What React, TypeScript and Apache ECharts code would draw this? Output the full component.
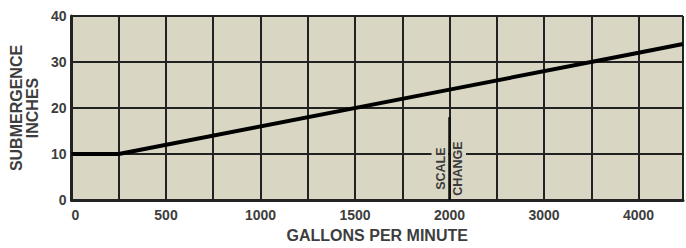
import React, { useEffect, useRef } from "react";
import * as echarts from "echarts";

// Flow (gallons per minute) and submergence (inches)
const flowGpm = [0, 250, 2000, 4000, 4470];
const submergenceIn = [10, 10, 24, 32, 33.9];

// Axis ticks (labels shown) in gallons per minute
const xTickLabels = [0, 500, 1000, 1500, 2000, 3000, 4000];
const yTicks = [0, 10, 20, 30, 40];

const SCALE_BREAK = 2000; // above this, the scale is compressed by 2
const X_MAX_GPM = 4470;

const toU = (g: number) => (g <= SCALE_BREAK ? g : SCALE_BREAK + (g - SCALE_BREAK) / 2);
const fromU = (u: number) => (u <= SCALE_BREAK ? u : SCALE_BREAK + (u - SCALE_BREAK) * 2);

const FONT = "'Liberation Sans', Arial, Helvetica, sans-serif";
const TEXT = "#3d3d3d";
const BG = "#d9d7c3";
const GRID = "#222222";

export default function App() {
  const ref = useRef<HTMLDivElement>(null);
  useEffect(() => {
    if (!ref.current) return;
    const chart = echarts.init(ref.current, null, { renderer: "svg" });
    const labelSet = new Set(xTickLabels.map((g) => Math.round(toU(g))));
    chart.setOption({
      animation: false,
      grid: {
        left: 68,
        top: 16,
        right: 0,
        bottom: 41,
        show: true,
        backgroundColor: BG,
        borderWidth: 0,
      },
      xAxis: {
        type: "value",
        min: 0,
        max: toU(X_MAX_GPM),
        interval: 250,
        name: "GALLONS PER MINUTE",
        nameLocation: "middle",
        nameGap: 27,
        nameTextStyle: { fontFamily: FONT, fontSize: 16, fontWeight: "bold", color: TEXT },
        axisLine: { show: true, lineStyle: { color: GRID, width: 3 } },
        axisTick: { show: false },
        axisLabel: {
          fontFamily: FONT,
          fontSize: 14,
          fontWeight: "bold",
          color: TEXT,
          margin: 8,
          alignMinLabel: "left",
          formatter: (v: number) => (labelSet.has(Math.round(v)) ? String(Math.round(fromU(v))) : ""),
        },
        splitLine: { show: true, lineStyle: { color: GRID, width: 2 } },
      },
      yAxis: {
        type: "value",
        min: yTicks[0],
        max: yTicks[yTicks.length - 1],
        interval: 10,
        name: "SUBMERGENCE\nINCHES",
        nameLocation: "middle",
        nameGap: 27,
        nameTextStyle: { fontFamily: FONT, fontSize: 16, fontWeight: "bold", color: TEXT, lineHeight: 16 },
        axisLine: { show: true, lineStyle: { color: GRID, width: 3 } },
        axisTick: { show: false },
        axisLabel: { fontFamily: FONT, fontSize: 14, fontWeight: "bold", color: TEXT, margin: 5 },
        splitLine: { show: true, lineStyle: { color: GRID, width: 2 } },
      },
      series: [
        {
          type: "line",
          data: flowGpm.map((g, i) => [toU(g), submergenceIn[i]]),
          showSymbol: false,
          symbol: "none",
          lineStyle: { color: "#000", width: 4 },
          z: 5,
        },
      ],
    });

    const p10 = chart.convertToPixel({ xAxisIndex: 0, yAxisIndex: 0 }, [SCALE_BREAK, 10]) as number[];
    const p0 = chart.convertToPixel({ xAxisIndex: 0, yAxisIndex: 0 }, [SCALE_BREAK, 0]) as number[];
    const p18 = chart.convertToPixel({ xAxisIndex: 0, yAxisIndex: 0 }, [SCALE_BREAK, 18]) as number[];
    const cx = p10[0];
    const cy = (p0[1] + p18[1]) / 2 + 10;
    chart.setOption({
      graphic: [
        { type: "rect", z: 20, shape: { x: cx - 18, y: p10[1] - 2.5, width: 16.5, height: 5 }, style: { fill: BG } },
        { type: "rect", z: 20, shape: { x: cx + 1.5, y: p10[1] - 2.5, width: 15, height: 5 }, style: { fill: BG } },
        {
          type: "line",
          z: 21,
          shape: { x1: cx, y1: p18[1], x2: cx, y2: p0[1] },
          style: { stroke: "#111", lineWidth: 2.6 },
        },
        {
          type: "text",
          z: 22,
          x: cx - 9,
          y: cy,
          rotation: Math.PI / 2,
          style: { text: "SCALE", fontFamily: FONT, fontSize: 12.5, fontWeight: "bold", fill: TEXT, align: "center", verticalAlign: "middle" },
        },
        {
          type: "text",
          z: 22,
          x: cx + 8,
          y: cy,
          rotation: Math.PI / 2,
          style: { text: "CHANGE", fontFamily: FONT, fontSize: 12.5, fontWeight: "bold", fill: TEXT, align: "center", verticalAlign: "middle" },
        },
      ],
    });
    return () => chart.dispose();
  }, []);
  return (
    <div
      ref={ref}
      style={{ position: "fixed", left: 0, top: 0, width: 686, height: 248, background: "#fff" }}
    />
  );
}
